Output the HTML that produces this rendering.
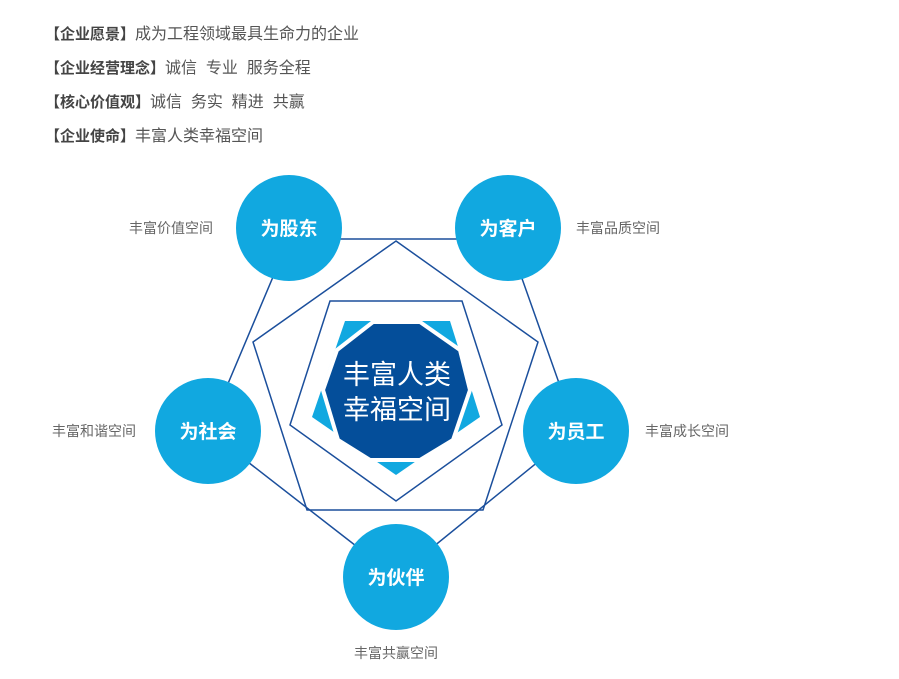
<!DOCTYPE html>
<html><head><meta charset="utf-8"><style>
body{margin:0;width:899px;height:679px;background:#fff;font-family:"Liberation Sans","Noto Sans CJK SC",sans-serif;position:relative;overflow:hidden}
.t{position:absolute;left:45px;font-size:16px;color:#555;white-space:pre}
.t b{color:#444;font-size:15px}
</style></head><body>
<div class="t" style="top:20px"><b>【企业愿景】</b>成为工程领域最具生命力的企业</div>
<div class="t" style="top:54px"><b>【企业经营理念】</b>诚信  专业  服务全程</div>
<div class="t" style="top:88px"><b>【核心价值观】</b>诚信  务实  精进  共赢</div>
<div class="t" style="top:122px"><b>【企业使命】</b>丰富人类幸福空间</div>
<svg width="899" height="679" style="position:absolute;left:0;top:0" font-family="Liberation Sans,Noto Sans CJK SC,sans-serif">
<g fill="none" stroke="#1b4f9c" stroke-width="1.5">
<polygon points="289,239 508,239 576,431 396,577 208,431"/>
<polygon points="396,241 538,342 483,510 307,510 253,342"/>
<polygon points="330,301 462,301 502,425 396,501 290,425"/>
</g>
<polygon points="345,321 450,321 480,417 396,475 312,417" fill="#11a8e0"/>
<polygon points="373,322 420,322 460,350 470,390 453,440 420,460 370,460 338,440 323,390 337,350" fill="#044e9a" stroke="#fff" stroke-width="4"/>
<g fill="#fff" font-size="27" text-anchor="middle">
<text x="397" y="384">丰富人类</text><text x="397" y="419">幸福空间</text></g>
<g fill="#11a8e0">
<circle cx="289" cy="228" r="53"/><circle cx="508" cy="228" r="53"/><circle cx="576" cy="431" r="53"/><circle cx="208" cy="431" r="53"/><circle cx="396" cy="577" r="53"/></g>
<g fill="#fff" font-size="19" font-weight="bold" text-anchor="middle">
<text x="289" y="235">为股东</text><text x="508" y="235">为客户</text><text x="576" y="438">为员工</text><text x="208" y="438">为社会</text><text x="396" y="584">为伙伴</text></g>
<g fill="#666" font-size="14" text-anchor="middle">
<text x="171" y="233">丰富价值空间</text><text x="618" y="233">丰富品质空间</text><text x="687" y="436">丰富成长空间</text><text x="94" y="436">丰富和谐空间</text><text x="396" y="658">丰富共赢空间</text></g>
</svg>
</body></html>
